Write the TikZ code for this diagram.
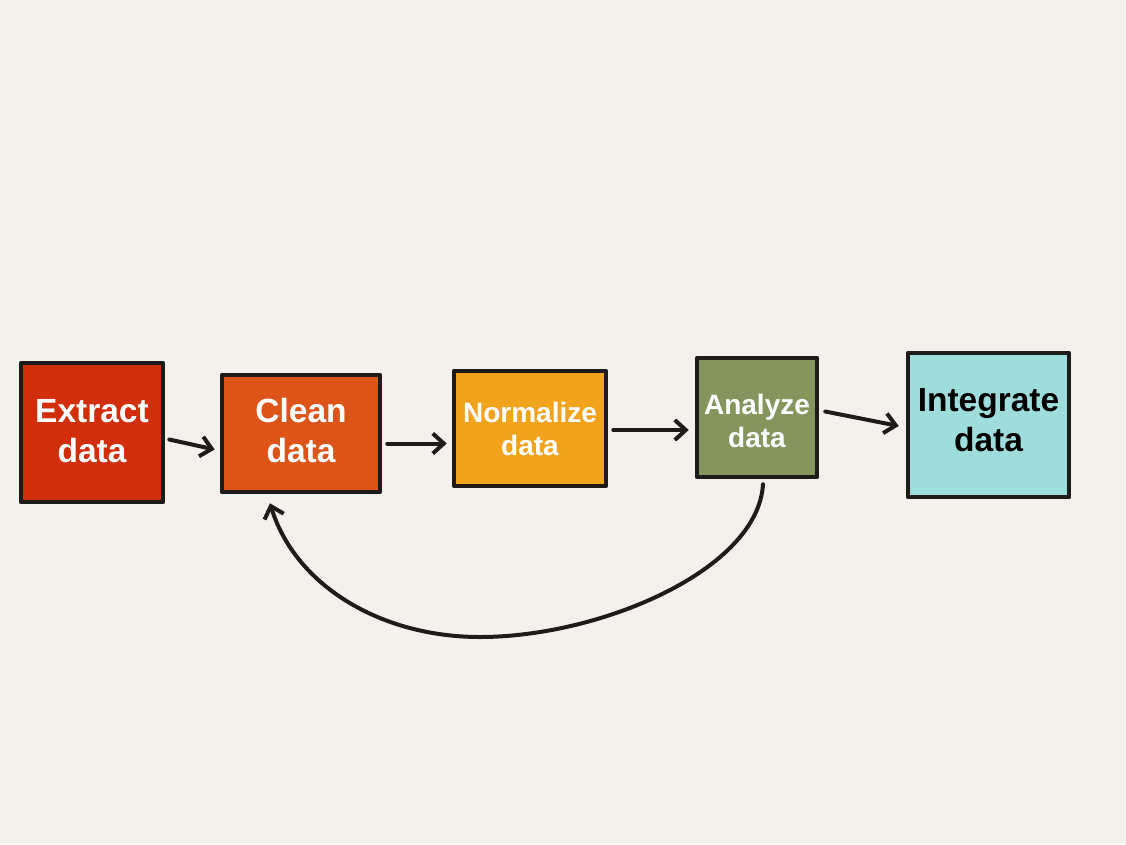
\documentclass[tikz,border=0pt]{standalone}
\usepackage{fontspec}
\setmainfont{Liberation Sans}
\usetikzlibrary{arrows.meta,calc}
\definecolor{bg}{HTML}{F2F1EC}
\definecolor{cExtract}{HTML}{D12E0B}
\definecolor{cClean}{HTML}{DD5419}
\definecolor{cNorm}{HTML}{F2A31C}
\definecolor{cAnalyze}{HTML}{84965E}
\definecolor{cInteg}{HTML}{9EDDDB}
\definecolor{ink}{HTML}{1E1C1A}
\tikzset{
  box/.style={draw=ink, line width=4.5pt, line join=round, inner sep=0pt},
  big/.style={align=center, inner sep=0pt, font=\bfseries\fontsize{33.5}{40}\selectfont},
  small/.style={align=center, inner sep=0pt, font=\bfseries\fontsize{28}{33}\selectfont},
  conn/.style={draw=ink, line width=4pt, line cap=round, -{Straight Barb[length=11pt,width=20pt,line width=4pt]}},
}
\begin{document}
\begin{tikzpicture}[x=1pt,y=-1pt]
\fill[bg] (0,0) rectangle (1126,844);
\useasboundingbox (0,0) rectangle (1126,844);
\node[box,fill=cExtract,minimum width=142pt,minimum height=139pt] (extract) at (92,432.5) {};
\node[box,fill=cClean,minimum width=158pt,minimum height=117pt] (clean) at (301,433.5) {};
\node[box,fill=cNorm,minimum width=152pt,minimum height=115pt] (norm) at (530,428.5) {};
\node[box,fill=cAnalyze,minimum width=120pt,minimum height=119pt] (analyze) at (757,417.5) {};
\node[box,fill=cInteg,minimum width=161pt,minimum height=144pt] (integ) at (988.5,425) {};
\node[big,text=white] (extract-t) at ($(extract)+(0,-1.5)$) {Extract\\data};
\node[big,text=white] (clean-t) at ($(clean)+(0,-3)$) {Clean\\data};
\node[small,text=white] (norm-t) at ($(norm)+(0,0.5)$) {Normalize\\data};
\node[small,text=white] (analyze-t) at ($(analyze)+(0,3)$) {Analyze\\data};
\node[big,text=black] (integ-t) at ($(integ)+(0,-5)$) {Integrate\\data};
\draw[conn] ($(extract.east)+(4,7)$) -- ($(clean.west)+(-5,16)$);
\draw[conn] ($(clean.east)+(5,10)$) -- ($(norm.west)+(-5,15)$);
\draw[conn] ($(norm.east)+(5,1.5)$) -- ($(analyze.west)+(-6,12.5)$);
\draw[conn] ($(analyze.east)+(6,-6)$) -- ($(integ.west)+(-7,1)$);
\draw[conn] ($(analyze.south)+(6,5)$) .. controls (758,570) and (600,637) .. (480,637) .. controls (380,637) and (295,585) .. ($(clean.south)+(-31,9)$);
\end{tikzpicture}
\end{document}
